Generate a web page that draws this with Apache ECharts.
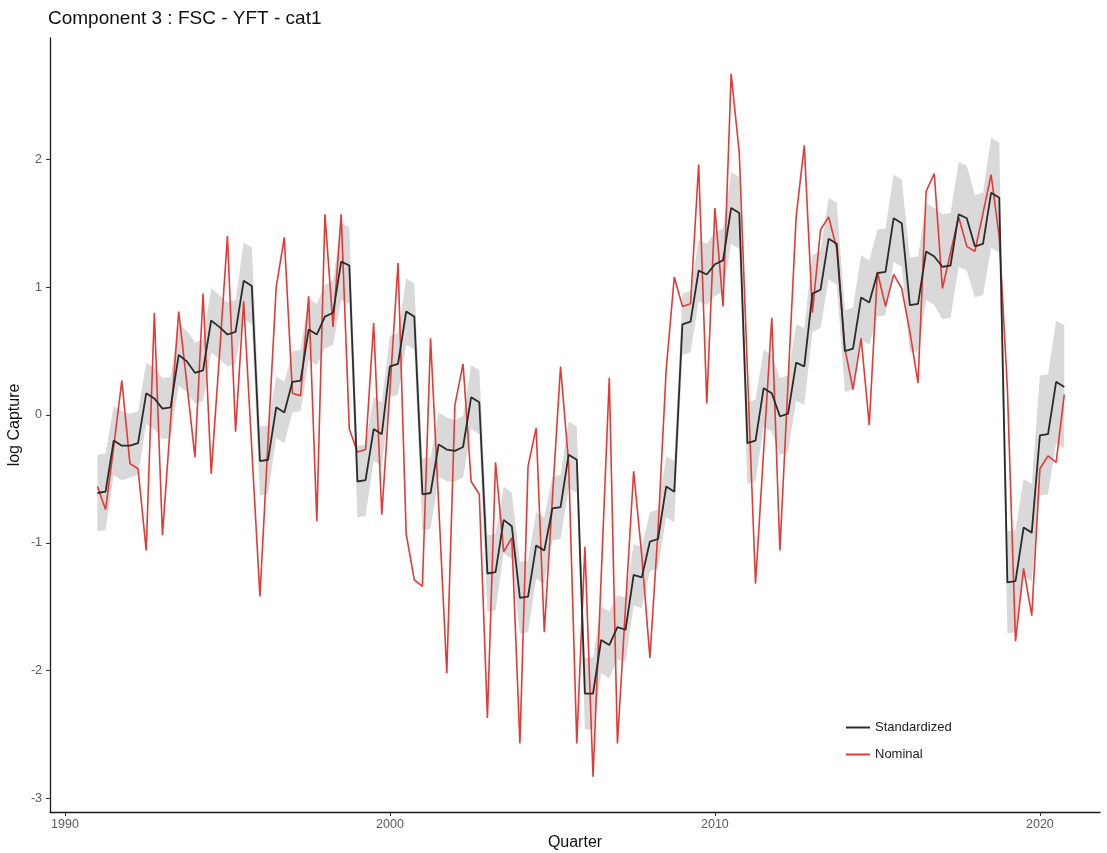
<!DOCTYPE html>
<html>
<head>
<meta charset="utf-8">
<title>Component 3 : FSC - YFT - cat1</title>
<script src="https://cdn.jsdelivr.net/npm/echarts@6.0.0/dist/echarts.min.js"></script>
<style>
  html, body { margin: 0; padding: 0; background: #ffffff; }
  #chart { width: 1107px; height: 853px; }
</style>
</head>
<body>
<div id="chart"></div>
<script>
// Quarterly index series, 1991 Q1 to 2020 Q4
const firstYear = 1991;
const quarterStep = 0.25;

// Standardized index (log scale)
const standardized = [
  -0.61, -0.60, -0.20, -0.24, -0.24, -0.22, 0.17, 0.13, 0.05, 0.06,
  0.47, 0.42, 0.33, 0.35, 0.74, 0.69, 0.63, 0.65, 1.05, 1.01,
  -0.36, -0.35, 0.06, 0.02, 0.26, 0.27, 0.67, 0.63, 0.77, 0.80,
  1.20, 1.17, -0.52, -0.51, -0.11, -0.15, 0.38, 0.40, 0.81, 0.77,
  -0.62, -0.61, -0.23, -0.27, -0.28, -0.25, 0.14, 0.10, -1.24, -1.23,
  -0.82, -0.87, -1.43, -1.42, -1.02, -1.06, -0.73, -0.72, -0.31, -0.35,
  -2.18, -2.18, -1.76, -1.80, -1.66, -1.68, -1.25, -1.27, -0.99, -0.97,
  -0.56, -0.60, 0.71, 0.73, 1.13, 1.10, 1.18, 1.21, 1.62, 1.58,
  -0.22, -0.20, 0.21, 0.17, -0.01, 0.01, 0.41, 0.38, 0.95, 0.98,
  1.38, 1.34, 0.50, 0.52, 0.92, 0.88, 1.11, 1.12, 1.54, 1.50,
  0.86, 0.87, 1.28, 1.24, 1.16, 1.17, 1.57, 1.54, 1.32, 1.34,
  1.74, 1.70, -1.31, -1.30, -0.88, -0.92, -0.16, -0.15, 0.26, 0.22
];

// Half-width of the confidence ribbon around the standardized index
const bandHalfWidth = [
  0.30, 0.30, 0.27, 0.27, 0.25, 0.25, 0.24, 0.24, 0.24, 0.24,
  0.24, 0.24, 0.24, 0.24, 0.25, 0.25, 0.25, 0.25, 0.30, 0.30,
  0.27, 0.27, 0.24, 0.24, 0.24, 0.24, 0.24, 0.24, 0.25, 0.25,
  0.30, 0.30, 0.28, 0.28, 0.25, 0.25, 0.24, 0.24, 0.26, 0.26,
  0.28, 0.28, 0.25, 0.25, 0.24, 0.24, 0.25, 0.25, 0.30, 0.30,
  0.26, 0.26, 0.28, 0.28, 0.26, 0.26, 0.25, 0.25, 0.26, 0.26,
  0.28, 0.28, 0.26, 0.26, 0.25, 0.25, 0.24, 0.24, 0.23, 0.23,
  0.24, 0.24, 0.24, 0.24, 0.24, 0.24, 0.25, 0.25, 0.28, 0.28,
  0.32, 0.32, 0.30, 0.30, 0.30, 0.30, 0.30, 0.30, 0.30, 0.30,
  0.32, 0.32, 0.32, 0.32, 0.33, 0.33, 0.34, 0.34, 0.34, 0.34,
  0.37, 0.37, 0.38, 0.38, 0.41, 0.41, 0.41, 0.41, 0.40, 0.40,
  0.43, 0.43, 0.40, 0.40, 0.38, 0.38, 0.47, 0.47, 0.48, 0.48
];

// Nominal index (log scale)
const nominal = [
  -0.56, -0.74, -0.25, 0.27, -0.38, -0.42, -1.06, 0.80, -0.94, -0.05,
  0.81, 0.25, -0.33, 0.95, -0.46, 0.45, 1.40, -0.13, 0.89, -0.27,
  -1.42, -0.20, 1.00, 1.39, 0.17, 0.15, 0.93, -0.83, 1.57, 0.69,
  1.57, -0.11, -0.29, -0.27, 0.72, -0.78, 0.20, 1.19, -0.93, -1.29,
  -1.34, 0.60, -0.70, -2.02, 0.08, 0.40, -0.52, -0.62, -2.37, -0.37,
  -1.07, -0.96, -2.57, -0.40, -0.10, -1.70, -0.65, 0.38, -0.38, -2.57,
  -1.03, -2.83, -1.27, 0.29, -2.57, -1.50, -0.44, -1.10, -1.90, -0.90,
  0.35, 1.08, 0.85, 0.87, 1.96, 0.09, 1.62, 0.85, 2.67, 2.05,
  0.35, -1.32, -0.28, 0.76, -1.06, 0.25, 1.55, 2.11, 0.80, 1.45,
  1.55, 1.30, 0.52, 0.20, 0.60, -0.08, 1.12, 0.85, 1.10, 0.99,
  0.65, 0.25, 1.75, 1.89, 0.99, 1.27, 1.55, 1.32, 1.28, 1.58,
  1.88, 1.39, 0.21, -1.77, -1.20, -1.57, -0.42, -0.32, -0.37, 0.16
];

// Axis tick labels
const xTicks = [1990, 2000, 2010, 2020];
const yTicks = [-3, -2, -1, 0, 1, 2];

const quarterTime = standardized.map((_, i) => firstYear + i * quarterStep);
const stdData = standardized.map((v, i) => [quarterTime[i], v]);
const nomData = nominal.map((v, i) => [quarterTime[i], v]);
const bandData = standardized.map((v, i) => [quarterTime[i], v - bandHalfWidth[i], v + bandHalfWidth[i]]);

const FONT = '"Liberation Sans", Arial, Helvetica, sans-serif';
const chart = echarts.init(document.getElementById('chart'), null, { renderer: 'canvas' });

chart.setOption({
  backgroundColor: '#ffffff',
  animation: false,
  title: {
    text: 'Component 3 : FSC - YFT - cat1',
    left: 43,
    top: 4,
    textStyle: { fontFamily: FONT, fontSize: 19, fontWeight: 'normal', color: '#111111' }
  },
  legend: {
    data: ['Standardized', 'Nominal'],
    orient: 'vertical',
    left: 841,
    top: 716,
    itemWidth: 24,
    itemHeight: 2,
    itemGap: 14,
    icon: 'rect',
    textStyle: { fontFamily: FONT, fontSize: 13, color: '#1a1a1a' }
  },
  grid: { left: 50, right: 7, top: 38, bottom: 41, containLabel: false, outerBoundsMode: 'none' },
  xAxis: {
    type: 'value',
    min: 1989.54,
    max: 2021.85,
    name: 'Quarter',
    nameLocation: 'middle',
    nameGap: 23,
    nameMoveOverlap: false,
    nameTextStyle: { fontFamily: FONT, fontSize: 16, color: '#111111' },
    splitLine: { show: false },
    axisLine: { show: true, onZero: false, lineStyle: { color: '#1a1a1a', width: 1.3 } },
    axisTick: { show: true, length: 4, customValues: xTicks, lineStyle: { color: '#333333' } },
    axisLabel: {
      customValues: xTicks,
      formatter: v => String(v),
      fontFamily: FONT, fontSize: 12.5, color: '#5a5a5a', margin: 6
    }
  },
  yAxis: {
    type: 'value',
    min: -3.106,
    max: 2.95,
    name: 'log Capture',
    nameLocation: 'middle',
    nameRotate: 90,
    nameGap: 27,
    nameMoveOverlap: false,
    nameTextStyle: { fontFamily: FONT, fontSize: 16, color: '#111111' },
    splitLine: { show: false },
    axisLine: { show: true, onZero: false, lineStyle: { color: '#1a1a1a', width: 1.3 } },
    axisTick: { show: true, length: 4, customValues: yTicks, lineStyle: { color: '#333333' } },
    axisLabel: {
      customValues: yTicks,
      formatter: v => String(v),
      fontFamily: FONT, fontSize: 12.5, color: '#5a5a5a', margin: 8
    }
  },
  series: [
    {
      // confidence ribbon drawn as one polygon through the axis scales
      name: 'band',
      type: 'custom',
      data: bandData,
      encode: { x: 0, y: [1, 2] },
      silent: true,
      z: 1,
      renderItem: function (params, api) {
        if (params.dataIndex !== 0) return null;
        const upper = bandData.map(d => api.coord([d[0], d[2]]));
        const lower = bandData.map(d => api.coord([d[0], d[1]])).reverse();
        return {
          type: 'polygon',
          shape: { points: upper.concat(lower) },
          style: { fill: '#d9d9d9', stroke: null }
        };
      }
    },
    {
      name: 'Nominal',
      type: 'line',
      data: nomData,
      showSymbol: false,
      symbol: 'none',
      z: 2,
      lineStyle: { color: '#e53935', width: 1.6 },
      itemStyle: { color: '#e53935' }
    },
    {
      name: 'Standardized',
      type: 'line',
      data: stdData,
      showSymbol: false,
      symbol: 'none',
      z: 3,
      lineStyle: { color: '#2b2b2b', width: 1.8 },
      itemStyle: { color: '#2b2b2b' }
    }
  ]
});
</script>
</body>
</html>
